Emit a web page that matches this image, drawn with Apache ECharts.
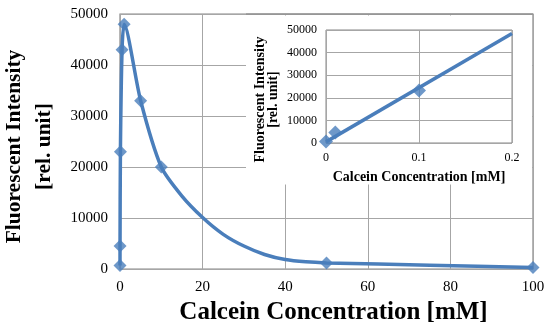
<!DOCTYPE html>
<html>
<head>
<meta charset="utf-8">
<script src="https://cdn.jsdelivr.net/npm/echarts@6/dist/echarts.min.js"></script>
<style>html,body{margin:0;padding:0;background:#fff}#c{width:550px;height:330px}</style>
</head>
<body>
<div id="c"></div>
<script>
// Main chart measured points
var concentration = [0, 0.01, 0.1, 0.5, 1, 5, 10, 50, 100];
var intensity = [700, 4500, 23000, 43000, 48000, 33000, 20000, 1200, 300];
// Smoothed curve as drawn in the reference
var curveX = [0, 0.01, 0.1, 0.5, 1, 5, 10, 15, 20, 25, 30, 35, 40, 45, 50, 75, 100];
var curveY = [700, 4500, 23000, 43000, 48000, 33000, 20000, 14300, 10100, 6800, 4500, 2850, 1850, 1400, 1200, 750, 300];
// Inset data
var insetConc = [0, 0.01, 0.1];
var insetIntensity = [700, 4700, 23200];
var insetFitX = [0, 0.2];
var insetFitY = [500, 48500];

var BLUE = '#4a7ebb';
var FONT = '"Liberation Serif", "Times New Roman", serif';

function pairs(xs, ys) { return xs.map(function (x, i) { return [x, ys[i]]; }); }
function plain(v) { return String(v); }

var chart = echarts.init(document.getElementById('c'), null, {renderer: 'canvas'});
chart.setOption({
  animation: false,
  backgroundColor: '#fff',
  grid: [
    {left: 120, right: 17, top: 14, bottom: 61, show: true, borderColor: '#868686', borderWidth: 1.2, z: 0,
     containLabel: false, outerBoundsMode: 'none'},
    {left: 326, right: 38, top: 30, bottom: 187, show: true, borderColor: '#868686', borderWidth: 1, z: 20,
     containLabel: false, outerBoundsMode: 'none'}
  ],
  graphic: [
    {type: 'rect', z: 10, shape: {x: 246, y: 15.5, width: 286, height: 169}, style: {fill: '#fff'}},
    {type: 'line', z: 10, shape: {x1: 246, y1: 14, x2: 533, y2: 14}, style: {stroke: '#868686', lineWidth: 1.2}}
  ],
  xAxis: [
    {gridIndex: 0, type: 'value', min: 0, max: 100, interval: 20,
     axisLine: {show: false}, axisTick: {show: false},
     splitLine: {show: true, lineStyle: {color: '#a6a6a6', width: 1}},
     axisLabel: {color: '#000', fontFamily: FONT, fontSize: 15, margin: 11, formatter: plain},
     name: 'Calcein Concentration [mM]', nameLocation: 'middle', nameGap: 28,
     nameTextStyle: {color: '#000', fontFamily: FONT, fontSize: 25, fontWeight: 'bold', padding: [0, 0, 0, 14]}},
    {gridIndex: 1, type: 'value', min: 0, max: 0.2, interval: 0.1, z: 20,
     axisLine: {show: false}, axisTick: {show: false},
     splitLine: {show: true, lineStyle: {color: '#a6a6a6', width: 1}},
     axisLabel: {color: '#000', fontFamily: FONT, fontSize: 12, margin: 9, formatter: plain},
     name: 'Calcein Concentration [mM]', nameLocation: 'middle', nameGap: 27,
     nameTextStyle: {color: '#000', fontFamily: FONT, fontSize: 14, fontWeight: 'bold'}}
  ],
  yAxis: [
    {gridIndex: 0, type: 'value', min: 0, max: 50000, interval: 10000,
     axisLine: {show: false}, axisTick: {show: false},
     splitLine: {show: true, lineStyle: {color: '#a6a6a6', width: 1}},
     axisLabel: {color: '#000', fontFamily: FONT, fontSize: 15, margin: 12, formatter: plain},
     name: 'Fluorescent Intensity\n[rel. unit]', nameLocation: 'middle', nameGap: 50, nameRotate: 90,
     nameTextStyle: {color: '#000', fontFamily: FONT, fontSize: 21.5, fontWeight: 'bold', lineHeight: 30, padding: [0, 10, 0, 0]}},
    {gridIndex: 1, type: 'value', min: 0, max: 50000, interval: 10000, z: 20,
     axisLine: {show: false}, axisTick: {show: false},
     splitLine: {show: true, lineStyle: {color: '#a6a6a6', width: 1}},
     axisLabel: {color: '#000', fontFamily: FONT, fontSize: 12, margin: 9, formatter: plain},
     name: 'Fluorescent Intensity\n[rel. unit]', nameLocation: 'middle', nameGap: 46, nameRotate: 90,
     nameTextStyle: {color: '#000', fontFamily: FONT, fontSize: 14, fontWeight: 'bold', lineHeight: 13, padding: [0, 26, 0, 0]}}
  ],
  series: [
    {type: 'line', xAxisIndex: 0, yAxisIndex: 0, data: pairs(curveX, curveY),
     smooth: 0.25, symbol: 'none',
     lineStyle: {color: BLUE, width: 3.5}, z: 2},
    {type: 'scatter', xAxisIndex: 0, yAxisIndex: 0, data: pairs(concentration, intensity),
     symbol: 'diamond', symbolSize: 13, itemStyle: {color: BLUE}, z: 3},
    {type: 'line', xAxisIndex: 1, yAxisIndex: 1, data: pairs(insetFitX, insetFitY),
     symbol: 'none', lineStyle: {color: BLUE, width: 3.5}, z: 22},
    {type: 'scatter', xAxisIndex: 1, yAxisIndex: 1, data: pairs(insetConc, insetIntensity),
     symbol: 'diamond', symbolSize: 14, itemStyle: {color: BLUE}, z: 23}
  ]
});
</script>
</body>
</html>
